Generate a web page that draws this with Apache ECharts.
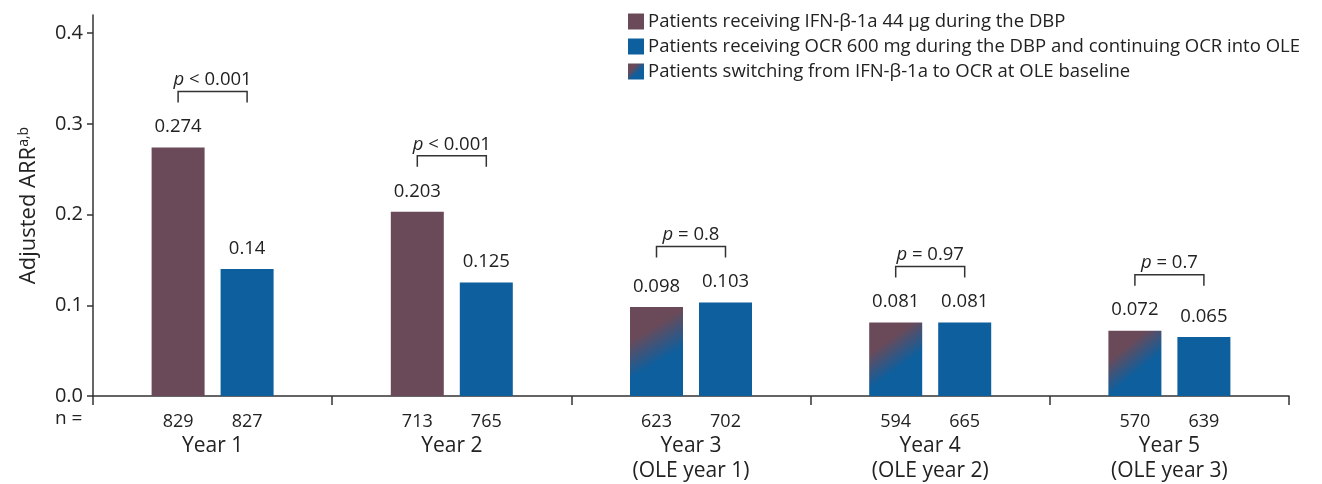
<!DOCTYPE html>
<html>
<head>
<meta charset="utf-8">
<script src="https://cdn.jsdelivr.net/npm/echarts@6/dist/echarts.min.js"></script>
<style>html,body{margin:0;padding:0;background:#fff}#c{width:1322px;height:484px}</style>
</head>
<body>
<div id="c"></div>
<script>
const categories = ['Year 1', 'Year 2', 'Year 3', 'Year 4', 'Year 5'];
const subLabels = ['', '', '(OLE year 1)', '(OLE year 2)', '(OLE year 3)'];
const ifnValues = [0.274, 0.203, null, null, null];
const ocrValues = [0.14, 0.125, 0.103, 0.081, 0.065];
const switchValues = [null, null, 0.098, 0.081, 0.072];
const nLeft = [829, 713, 623, 594, 570];
const nRight = [827, 765, 702, 665, 639];
const pValues = ['< 0.001', '< 0.001', '= 0.8', '= 0.97', '= 0.7'];
const yTicks = [0, 0.1, 0.2, 0.3, 0.4];

const PURPLE = '#6a4a59';
const BLUE = '#0d5f9e';
const TEXT = '#222';
const FONT = '"Open Sans", "Noto Sans", sans-serif';

const grad = {
  type: 'linear', x: 0, y: 0, x2: 1, y2: 1,
  colorStops: [
    { offset: 0, color: PURPLE },
    { offset: 0.28, color: PURPLE },
    { offset: 0.6, color: BLUE },
    { offset: 1, color: BLUE }
  ]
};

const BAR_W = 53;
const BAR_GAP = 16;
const half = (BAR_W + BAR_GAP) / 2;

const valueLabel = {
  show: true, position: 'top', distance: 11,
  fontSize: 18.5, color: TEXT, fontFamily: FONT,
  formatter: p => (p.value == null ? '' : String(p.value))
};

const bracketData = categories.map((c, i) => {
  const a = ifnValues[i] != null ? ifnValues[i] : switchValues[i];
  return [i, Math.max(a, ocrValues[i]), pValues[i]];
});

const chart = echarts.init(document.getElementById('c'), null, { renderer: 'canvas' });
chart.setOption({
  animation: false,
  textStyle: { fontFamily: FONT },
  grid: { left: 93, right: 33, top: 15, bottom: 88, containLabel: false },
  legend: {
    orient: 'vertical', left: 623, top: 7,
    itemWidth: 16, itemHeight: 16, itemGap: 6,
    icon: 'rect',
    textStyle: { fontSize: 18.5, color: TEXT, fontFamily: FONT, padding: [0, 0, 0, -1] },
    data: ['Patients receiving IFN-β-1a 44 µg during the DBP',
           'Patients receiving OCR 600 mg during the DBP and continuing OCR into OLE',
           'Patients switching from IFN-β-1a to OCR at OLE baseline']
  },
  xAxis: {
    type: 'category',
    data: categories,
    axisLine: { lineStyle: { color: '#333', width: 1.5 } },
    axisTick: { show: true, inside: false, length: 9, lineStyle: { color: '#333', width: 1.5 } },
    axisLabel: {
      margin: 14, interval: 0,
      formatter: (v, i) => {
        let s = '{n|' + nLeft[i] + '}{n|' + nRight[i] + '}\n{y|' + v + '}';
        if (subLabels[i]) s += '\n{y|' + subLabels[i] + '}';
        return s;
      },
      rich: {
        n: { width: 69, align: 'center', fontSize: 18, lineHeight: 24, color: TEXT, fontFamily: FONT },
        y: { align: 'center', fontSize: 21, lineHeight: 25, color: TEXT, fontFamily: FONT }
      }
    }
  },
  yAxis: {
    type: 'value', min: 0, max: 0.42,
    name: 'Adjusted ARR{sup|a,b}',
    nameLocation: 'middle', nameGap: 52,
    nameTextStyle: {
      fontSize: 22, color: TEXT, fontFamily: FONT,
      rich: { sup: { fontSize: 14, color: TEXT, fontFamily: FONT, padding: [0, 0, 10, 0] } }
    },
    splitLine: { show: false },
    axisLine: { show: true, lineStyle: { color: '#333', width: 1.5 } },
    axisTick: { show: true, length: 6, lineStyle: { color: '#333', width: 1.5 }, customValues: yTicks },
    axisLabel: {
      margin: 10, fontSize: 20, color: TEXT, fontFamily: FONT,
      customValues: yTicks,
      formatter: v => v.toFixed(1)
    }
  },
  graphic: [{
    type: 'text', left: 55, top: 409,
    style: { text: 'n =', fontSize: 19, fill: TEXT, fontFamily: FONT }
  }],
  series: [
    {
      name: 'Patients receiving IFN-β-1a 44 µg during the DBP',
      type: 'bar', stack: 'first', data: ifnValues,
      barWidth: BAR_W, barGap: (BAR_GAP / BAR_W * 100) + '%',
      itemStyle: { color: PURPLE },
      label: valueLabel
    },
    {
      name: 'Patients receiving OCR 600 mg during the DBP and continuing OCR into OLE',
      type: 'bar', data: ocrValues,
      barWidth: BAR_W, barGap: (BAR_GAP / BAR_W * 100) + '%',
      itemStyle: { color: BLUE },
      label: valueLabel
    },
    {
      name: 'Patients switching from IFN-β-1a to OCR at OLE baseline',
      type: 'bar', stack: 'first', data: switchValues,
      barWidth: BAR_W, barGap: (BAR_GAP / BAR_W * 100) + '%',
      itemStyle: { color: grad },
      label: valueLabel
    },
    {
      type: 'custom',
      silent: true,
      data: bracketData,
      z: 5,
      renderItem: (params, api) => {
        const c = api.coord([api.value(0), api.value(1)]);
        const y0 = c[1] - 56;
        const x1 = c[0] - half, x2 = c[0] + half;
        const txt = bracketData[params.dataIndex][2];
        return {
          type: 'group',
          children: [
            {
              type: 'polyline',
              shape: { points: [[x1, y0 + 11], [x1, y0], [x2, y0], [x2, y0 + 11]] },
              style: { stroke: '#333', lineWidth: 1.5, fill: null }
            },
            {
              type: 'text',
              x: c[0], y: y0 - 2,
              style: {
                text: '{i|p} ' + txt,
                align: 'center', verticalAlign: 'bottom',
                fontSize: 18.5, fill: TEXT, fontFamily: FONT,
                rich: { i: { fontStyle: 'italic', fontSize: 18.5, fill: TEXT, fontFamily: FONT } }
              }
            }
          ]
        };
      }
    }
  ]
});
</script>
</body>
</html>
